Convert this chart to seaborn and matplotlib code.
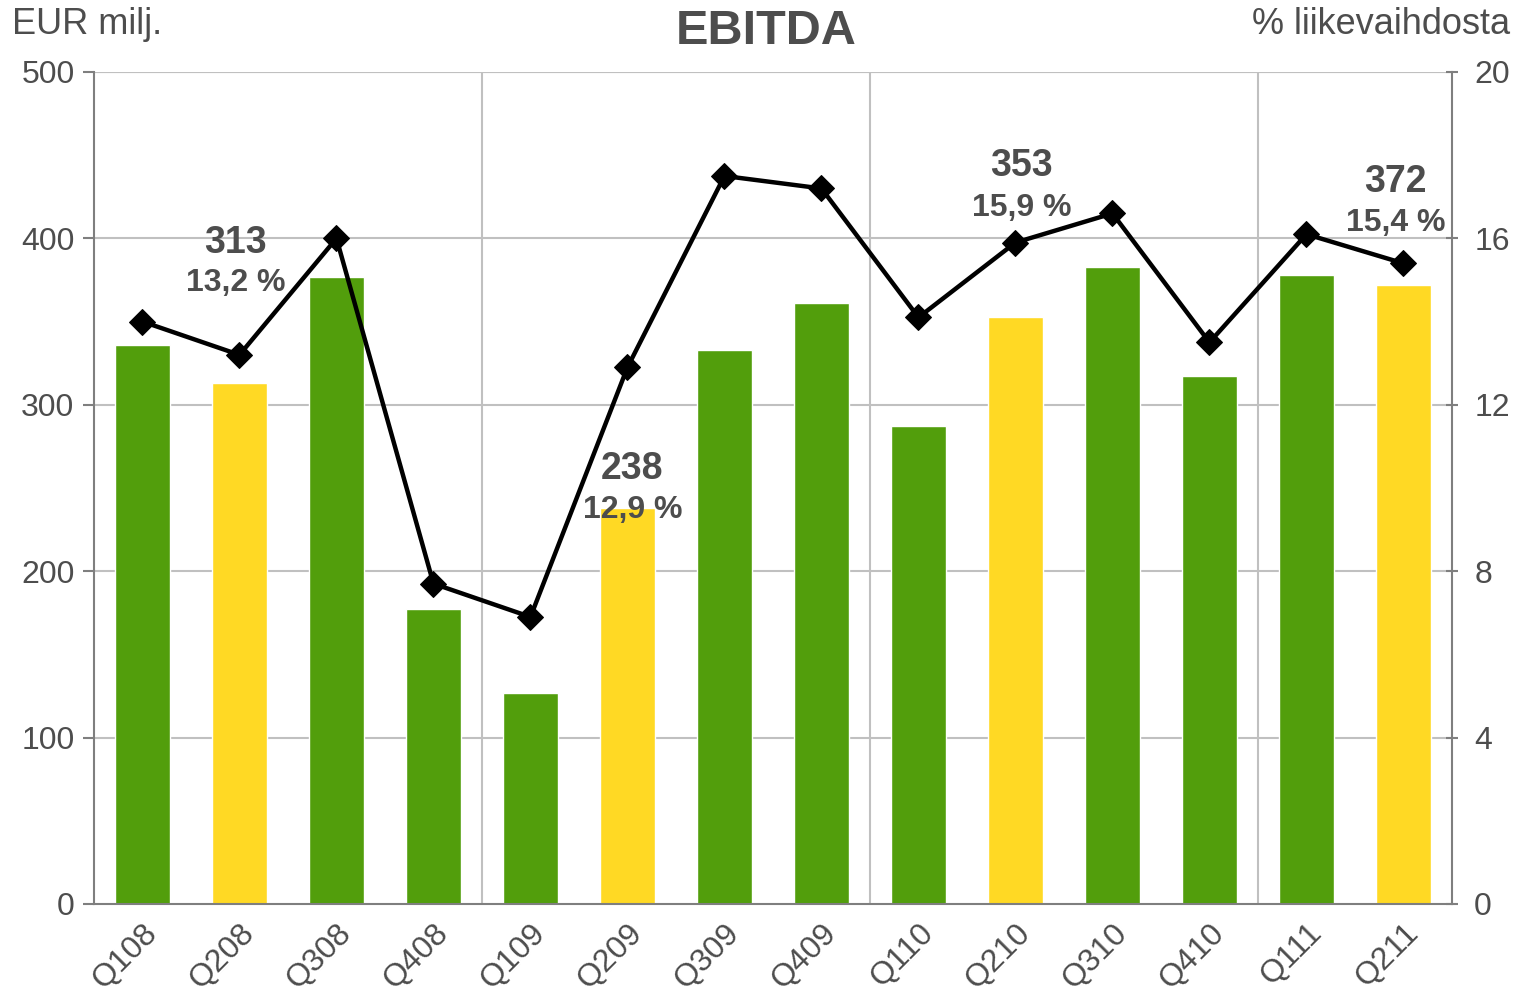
import pandas as pd
import matplotlib.pyplot as plt
import seaborn as sns

# --- Data ---
quarters = ['Q108', 'Q208', 'Q308', 'Q408', 'Q109', 'Q209', 'Q309',
            'Q409', 'Q110', 'Q210', 'Q310', 'Q410', 'Q111', 'Q211']
ebitda = [336, 313, 377, 177, 127, 238, 333, 361, 287, 353, 383, 317, 378, 372]
margin = [14.0, 13.2, 16.0, 7.7, 6.9, 12.9, 17.5, 17.2, 14.1, 15.9, 16.6, 13.5, 16.1, 15.4]
highlight = [False, True, False, False, False, True, False,
             False, False, True, False, False, False, True]
label_value = ['313', '238', '353', '372']
label_pct = ['13,2 %', '12,9 %', '15,9 %', '15,4 %']

# --- Style ---
sns.set_style('white')
plt.rcParams['font.family'] = ['Liberation Sans', 'DejaVu Sans']
text_col = '#4d4d4d'
green = '#529e0c'
yellow = '#ffd924'
grid_col = '#c0c0c0'
spine_col = '#7f7f7f'

df = pd.DataFrame({'quarter': quarters, 'ebitda': ebitda, 'margin': margin,
                   'kind': ['hl' if h else 'base' for h in highlight]})

fig = plt.figure(figsize=(15.18, 9.97), dpi=100)
ax = fig.add_axes([0.0619, 0.0933, 0.8946, 0.8345])

# grid first so bars sit on top
for v in range(100, 501, 100):
    ax.axhline(v, color=grid_col, lw=1.5, zorder=0)
for xv in [3.5, 7.5, 11.5]:
    ax.axvline(xv, color=grid_col, lw=1.5, zorder=0)

sns.barplot(data=df, x='quarter', y='ebitda', hue='kind',
            palette={'base': green, 'hl': yellow}, width=0.56,
            dodge=False, legend=False, saturation=1, ax=ax, zorder=2)

ax.set_xlim(-0.5, 13.5)
ax.set_ylim(0, 500)
ax.set_yticks(range(0, 501, 100))
ax.set_xlabel('')
ax.set_ylabel('')

# x ticks only at year boundaries, labels at category centres
ax.set_xticks([-0.5, 3.5, 7.5, 11.5])
ax.set_xticklabels([])
ax.set_xticks(range(len(quarters)), minor=True)
ax.set_xticklabels(quarters, minor=True, rotation=45, ha='right',
                   rotation_mode='anchor', fontsize=23, color=text_col)
ax.tick_params(axis='x', which='minor', length=0, pad=10)
ax.tick_params(axis='x', which='major', length=8, width=1.5, color=spine_col, direction='out')
ax.tick_params(axis='y', length=8, width=1.5, color=spine_col, labelsize=23,
               labelcolor=text_col, pad=6)

for s in ['top', 'right']:
    ax.spines[s].set_visible(False)
for s in ['left', 'bottom']:
    ax.spines[s].set_color(spine_col)
    ax.spines[s].set_linewidth(1.5)
ax.axhline(500, color=grid_col, lw=1.5, zorder=0)

# --- right axis: margin line ---
ax2 = ax.twinx()
sns.lineplot(x=list(range(len(quarters))), y=margin, ax=ax2, color='black',
             lw=3.2, marker='D', markersize=13, markeredgecolor='black', zorder=5)
ax2.set_ylim(0, 20)
ax2.set_yticks(range(0, 21, 4))
ax2.tick_params(axis='y', length=8, width=1.5, color=spine_col, labelsize=23,
                labelcolor=text_col, direction='inout', pad=12)
for s in ['top', 'left', 'bottom']:
    ax2.spines[s].set_visible(False)
ax2.spines['right'].set_color(spine_col)
ax2.spines['right'].set_linewidth(1.5)

# --- value annotations (on right-axis scale) ---
hl_idx = [i for i, h in enumerate(highlight) if h]
pos = [(-0.04, 15.9, 14.93), (0.05, 10.46, 9.47), (0.06, 17.74, 16.73), (-0.08, 17.36, 16.37)]
for i, (dx, yv, yp), v, p in zip(hl_idx, pos, label_value, label_pct):
    ax2.text(i + dx, yv, v, ha='center', va='center', fontsize=27,
             fontweight='bold', color=text_col, zorder=6)
    ax2.text(i + dx, yp, p, ha='center', va='center', fontsize=23,
             fontweight='bold', color=text_col, zorder=6)

# --- titles ---
fig.text(0.505, 0.968, 'EBITDA', ha='center', va='center', fontsize=35,
         fontweight='bold', color=text_col)
fig.text(0.008, 0.975, 'EUR milj.', ha='left', va='center', fontsize=26, color=text_col)
fig.text(0.995, 0.975, '% liikevaihdosta', ha='right', va='center', fontsize=26, color=text_col)

fig.savefig('out.png', dpi=100)
plt.close()
